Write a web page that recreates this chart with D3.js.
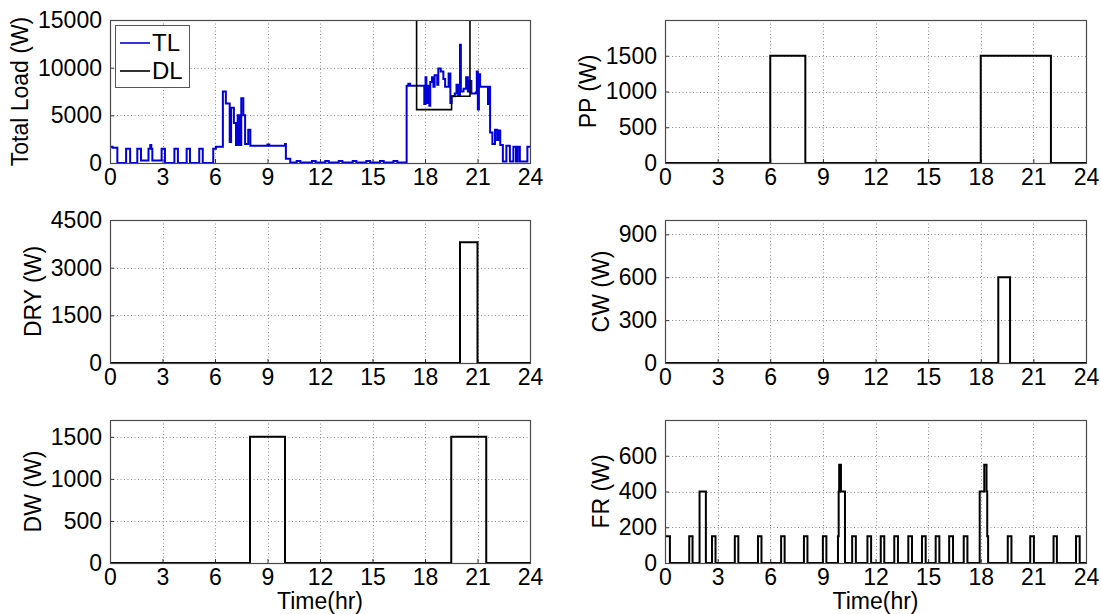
<!DOCTYPE html>
<html>
<head>
<meta charset="utf-8">
<script src="https://cdn.jsdelivr.net/npm/d3@7"></script>
<style>
  html, body { margin: 0; padding: 0; background: #fff; }
  svg { display: block; }
  text { font-family: "Liberation Sans", Arial, sans-serif; fill: #000; }
</style>
</head>
<body>
<svg id="fig" width="1101" height="614"></svg>
<script>
// ---- time axis (hours) ----
const hourTicks = [0, 3, 6, 9, 12, 15, 18, 21, 24];

// ---- total load (TL), step series: [hour, watts] ----
const tlTime = [0, 0.15, 0.42, 0.92, 1.15, 1.56, 1.77, 2.2, 2.3, 2.36, 2.42, 2.95, 3.14, 3.68, 3.88,
  4.38, 4.57, 5.1, 5.3, 5.9, 6.05, 6.45, 6.62, 6.84, 6.92, 7.08, 7.2, 7.3, 7.4, 7.5, 7.62, 7.72,
  7.9, 8.02, 9.0, 9.1, 10.0, 10.05, 10.3, 10.67, 10.88, 11.54, 11.75, 12.3, 12.5, 13.07, 13.28,
  13.87, 14.08, 14.65, 14.86, 15.43, 15.64, 16.2, 16.42, 16.95, 17.05, 17.15, 17.96, 18.03, 18.08,
  18.15, 18.25, 18.3, 18.4, 18.48, 18.55, 18.7, 18.76, 18.9, 19.05, 19.15, 19.35, 19.45, 19.52,
  19.7, 19.8, 19.9, 20.0, 20.05, 20.2, 20.35, 20.45, 20.55, 20.65, 20.9, 20.96, 21.02, 21.08,
  21.15, 21.6, 21.66, 21.72, 21.85, 22.0, 22.12, 22.2, 22.3, 22.45, 22.65, 22.85, 23.05, 23.2,
  23.3, 23.42, 23.85, 24];
const tlLoad = [1700, 1600, 0, 1500, 0, 1500, 250, 1500, 1900, 1500, 250, 1500, 0, 1500, 0,
  1500, 0, 1500, 0, 1500, 1700, 7500, 6250, 2200, 5800, 4200, 1900, 5000, 1900, 6800, 5000, 2000,
  3500, 1800, 1950, 1800, 2000, 450, 50, 200, 50, 200, 50, 200, 50, 200, 50,
  200, 50, 200, 50, 200, 50, 200, 50, 8100, 8300, 8100, 6200, 9000, 6300,
  8100, 6000, 8500, 9000, 8000, 9200, 8200, 9900, 9600, 8800, 8000, 9400, 6300, 7000,
  7300, 8200, 7100, 12400, 7500, 7800, 9000, 7500, 8600, 7300, 7400, 9600, 5600, 9300,
  8000, 6200, 8000, 3200, 2000, 3500, 2400, 3400, 1900, 150, 1800, 150, 1700, 150,
  1700, 150, 1700, 1700];

// ---- demand limit (DL); 20000 stands for "no limit" and lies above the axis ----
const dlTime = [0, 17.52, 19.52, 20.57, 24];
const dlLoad = [20000, 5600, 7000, 20000, 20000];

// ---- appliance loads ----
const ppTime = [0, 6, 8, 18, 22, 24];
const ppLoad = [0, 1500, 0, 1500, 0, 0];

const dryTime = [0, 20, 21, 24];
const dryLoad = [0, 3800, 0, 0];

const cwTime = [0, 19, 19.67, 24];
const cwLoad = [0, 600, 0, 0];

const dwTime = [0, 8, 10, 19.5, 21.5, 24];
const dwLoad = [0, 1500, 0, 1500, 0, 0];

const frTime = [0, 0.28, 1.38, 1.57, 1.97, 2.33, 2.68, 2.88, 3.98, 4.18, 5.3, 5.5, 6.62, 6.82,
  7.92, 8.12, 9.0, 9.2, 9.86, 9.9, 9.93, 10.03, 10.26, 10.67, 10.88, 11.54, 11.75, 12.3, 12.5,
  13.07, 13.28, 13.87, 14.08, 14.65, 14.86, 15.43, 15.64, 16.2, 16.42, 17.03, 17.24,
  17.94, 18.2, 18.33, 18.37, 18.42, 19.54, 19.75, 20.82, 21.03, 22.15, 22.34, 23.43, 23.64, 24];
const frLoad = [150, 0, 150, 0, 400, 0, 150, 0, 150, 0, 150, 0, 150, 0,
  150, 0, 150, 0, 150, 400, 550, 400, 0, 150, 0, 150, 0, 150, 0,
  150, 0, 150, 0, 150, 0, 150, 0, 150, 0, 150, 0,
  400, 550, 400, 150, 0, 150, 0, 150, 0, 150, 0, 150, 0, 0];

// ---- y ticks per panel ----
const tlTicks = [0, 5000, 10000, 15000];
const ppTicks = [0, 500, 1000, 1500];
const dryTicks = [0, 1500, 3000, 4500];
const cwTicks = [0, 300, 600, 900];
const dwTicks = [0, 500, 1000, 1500];
const frTicks = [0, 200, 400, 600];

const zip = (t, v) => t.map((h, i) => [h, v[i]]);

const svg = d3.select("#fig");
const FONT = 23;
const colX = [110, 665];
const colW = [420, 421];
const rowY = [20, 220, 420];
const rowH = 143;

let clipId = 0;

function panel(opts) {
  const x0 = colX[opts.col], y0 = rowY[opts.row];
  const w = colW[opts.col], h = rowH;
  const g = svg.append("g").attr("transform", `translate(${x0},${y0})`);
  const x = d3.scaleLinear().domain([0, 24]).range([0, w]);
  const y = d3.scaleLinear().domain([0, opts.yMax]).range([h, 0]);

  // dotted grid
  const grid = g.append("g").attr("stroke", "#8c8c8c").attr("stroke-width", 1)
    .attr("stroke-dasharray", "1,2.5");
  grid.selectAll("line.v").data(hourTicks.filter(t => t > 0 && t < 24)).join("line")
    .attr("x1", d => Math.round(x(d)) + 0.5).attr("x2", d => Math.round(x(d)) + 0.5)
    .attr("y1", 0).attr("y2", h);
  grid.selectAll("line.h").data(opts.yTicks.filter(t => t > 0 && t < opts.yMax)).join("line")
    .attr("y1", d => Math.round(y(d)) + 0.5).attr("y2", d => Math.round(y(d)) + 0.5)
    .attr("x1", 0).attr("x2", w);

  // axes
  const xa = g.append("g").attr("transform", `translate(0,${h})`)
    .call(d3.axisBottom(x).tickValues(hourTicks).tickFormat(d3.format("d"))
      .tickSizeInner(-4).tickSizeOuter(0).tickPadding(6));
  const ya = g.append("g")
    .call(d3.axisLeft(y).tickValues(opts.yTicks).tickFormat(d3.format("d"))
      .tickSizeInner(-4).tickSizeOuter(0).tickPadding(8));
  [xa, ya].forEach(a => {
    a.select(".domain").remove();
    a.selectAll(".tick line").attr("stroke", "#333");
    a.selectAll("text").style("font-size", FONT + "px")
      .style("font-family", '"Liberation Sans", Arial, sans-serif').attr("fill", "#000");
  });

  // data lines
  const cid = "clip" + (clipId++);
  g.append("clipPath").attr("id", cid).append("rect")
    .attr("x", 0).attr("y", 0).attr("width", w).attr("height", h + 2);
  const line = d3.line().x(d => x(d[0])).y(d => y(d[1])).curve(d3.curveStepAfter);
  const data = g.append("g").attr("clip-path", `url(#${cid})`);
  opts.series.forEach(s => {
    data.append("path").datum(s.values).attr("d", line)
      .attr("fill", "none").attr("stroke", s.color).attr("stroke-width", s.width || 2)
      .attr("stroke-linejoin", "miter");
  });

  // box
  g.append("rect").attr("x", 0.5).attr("y", 0.5).attr("width", w).attr("height", h)
    .attr("fill", "none").attr("stroke", "#4a4a4a").attr("stroke-width", 1.2);

  // y label
  let maxW = 0;
  ya.selectAll("text").each(function () { maxW = Math.max(maxW, this.getComputedTextLength()); });
  const lx = -8 - maxW - 10;
  g.append("text").attr("transform", `translate(${lx},${h / 2}) rotate(-90)`)
    .attr("text-anchor", "middle").style("font-size", FONT + "px").text(opts.label);

  if (opts.xLabel) {
    g.append("text").attr("x", w / 2).attr("y", h + 46)
      .attr("text-anchor", "middle").style("font-size", FONT + "px").text(opts.xLabel);
  }
  return g;
}

const BLUE = "#0000d8";
const BLACK = "#000";

const g0 = panel({ col: 0, row: 0, yMax: 15000, yTicks: tlTicks, label: "Total Load (W)",
  series: [
    { values: zip(tlTime, tlLoad), color: BLUE, width: 2 },
    { values: zip(dlTime, dlLoad), color: BLACK, width: 1.6 }
  ] });

// legend
const leg = g0.append("g").attr("transform", "translate(5,5)");
leg.append("rect").attr("x", 0.5).attr("y", 0.5).attr("width", 74).attr("height", 62)
  .attr("fill", "#fff").attr("stroke", "#555").attr("stroke-width", 1);
[["TL", BLUE], ["DL", BLACK]].forEach((e, i) => {
  const cy = 18 + i * 28;
  leg.append("line").attr("x1", 5).attr("x2", 35).attr("y1", cy).attr("y2", cy)
    .attr("stroke", e[1]).attr("stroke-width", 1.6);
  leg.append("text").attr("x", 37).attr("y", cy + 8).style("font-size", "24px").text(e[0]);
});

panel({ col: 1, row: 0, yMax: 2000, yTicks: ppTicks, label: "PP (W)",
  series: [{ values: zip(ppTime, ppLoad), color: BLACK }] });
panel({ col: 0, row: 1, yMax: 4500, yTicks: dryTicks, label: "DRY (W)",
  series: [{ values: zip(dryTime, dryLoad), color: BLACK }] });
panel({ col: 1, row: 1, yMax: 1000, yTicks: cwTicks, label: "CW (W)",
  series: [{ values: zip(cwTime, cwLoad), color: BLACK }] });
panel({ col: 0, row: 2, yMax: 1700, yTicks: dwTicks, label: "DW (W)", xLabel: "Time(hr)",
  series: [{ values: zip(dwTime, dwLoad), color: BLACK }] });
panel({ col: 1, row: 2, yMax: 800, yTicks: frTicks, label: "FR (W)", xLabel: "Time(hr)",
  series: [{ values: zip(frTime, frLoad), color: BLACK }] });
</script>
</body>
</html>
